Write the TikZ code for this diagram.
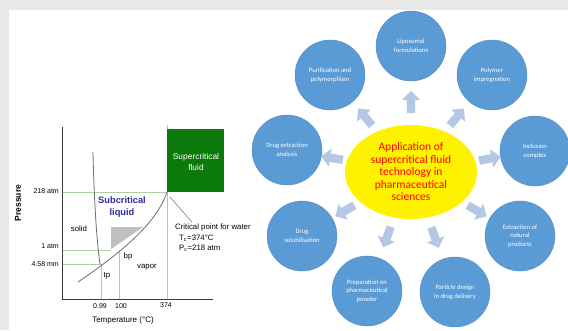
\documentclass[tikz,border=0pt]{standalone}
\usepackage{fontspec}
\setmainfont{Carlito}
\newfontfamily\arialfont{Liberation Sans}
\usetikzlibrary{calc,shapes.geometric,shapes.arrows}
\definecolor{framegray}{HTML}{E8E8E8}
\definecolor{scfgreen}{HTML}{0B7A0B}
\definecolor{gridgreen}{HTML}{A9CFA3}
\definecolor{axisgray}{HTML}{3C3C3C}
\definecolor{curvegray}{HTML}{6E6E6E}
\definecolor{circblue}{HTML}{5B9BD5}
\definecolor{arrblue}{HTML}{B4C8E6}
\definecolor{subblue}{HTML}{2B2B9E}
\tikzset{
  phase/.style={font=\arialfont\fontsize{7.8}{9.5}\selectfont, inner sep=1pt},
  ticklabel/.style={font=\arialfont\fontsize{7}{8}\selectfont, inner sep=1pt},
  gridline/.style={gridgreen, line width=0.7pt},
  usecircle/.style={circle, fill=circblue, draw=circblue!90!black, line width=0.4pt,
    minimum size=70pt, inner sep=0pt, text=white, align=center,
    font=\fontsize{6.6}{8.7}\selectfont},
  blockarrow/.style={single arrow, fill=arrblue, minimum height=22pt, minimum width=18pt,
    single arrow head extend=5pt, inner xsep=0pt, inner ysep=4pt}
}

\begin{document}
\begin{tikzpicture}[x=1pt,y=-1pt]
\useasboundingbox (0,0) rectangle (568,330);
\fill[framegray] (0,0) rectangle (568,330);
\fill[white] (9,10) rectangle (568,330);

% phase diagram of water
\draw[gridline] (62,192) -- (167,192);
\draw[gridline] (62,250) -- (111,250);
\draw[gridline] (62,264) -- (101,264) -- (101,299);
\draw[gridline] (119,250) -- (119,299);
\draw[gridline] (167,125) -- (167,299);
\fill[scfgreen] (167,129) rectangle (224,192);
\fill[gray!50] (111,227) -- (143,227) -- (111,249) -- cycle;
\draw[axisgray, line width=0.9pt] (62,127) -- (62,299) -- (213,299);
\draw[curvegray, line width=0.8pt] (93,152) .. controls (94,200) and (97,245) .. (100,264);
\draw[curvegray, line width=0.8pt] (78,282) .. controls (125,250) and (157,222) .. (167,192);

\path (196,162) node[phase, text=white, align=center, font=\arialfont\fontsize{8.4}{10.5}\selectfont] (scf) {Supercritical\\fluid};
\path (122,207) node[phase, text=subblue, align=center, font=\arialfont\bfseries\fontsize{9.3}{11.5}\selectfont] (sub) {Subcritical\\liquid};
\path (79,229) node[phase] (solid) {solid};
\path (128,256) node[phase] (bp) {bp};
\path (147,267) node[phase] (vapor) {vapor};
\path (107,276) node[phase] (tp) {tp};
\path (174,227) node[phase, anchor=west] (crit) {Critical point for water};
\path (178,238) node[phase, anchor=west] (tc) {T\textsubscript{c}=374°C};
\path (178,248) node[phase, anchor=west] (pc) {P\textsubscript{c}=218 atm};
\coordinate (cpt) at (170,197);
\draw[curvegray, line width=0.5pt] (cpt) -- ($(crit.north west)+(18,0)$);

\path (60,191) node[ticklabel, anchor=east] (p218) {218 atm};
\path (60,246) node[ticklabel, anchor=east] (p1) {1 atm};
\path (60,264) node[ticklabel, anchor=east] (p458) {4.58 mm};
\path (100,306) node[ticklabel] (t099) {0.99};
\path (121,306) node[ticklabel] (t100) {100};
\path (166,305) node[ticklabel] (t374) {374};
\path (123,320) node[phase, font=\arialfont\fontsize{8}{9}\selectfont] (tlab) {Temperature (°C)};
\path (18,203) node[phase, rotate=90, font=\arialfont\bfseries\fontsize{8.5}{10}\selectfont] (plab) {Pressure};

% applications
\path (411,172) node[ellipse, fill=yellow, minimum width=132pt, minimum height=94pt, inner sep=0pt,
  align=center, text=red, font=\fontsize{11.5}{12.5}\selectfont] (centre)
  {Application of\\supercritical fluid\\technology in\\pharmaceutical\\sciences};

\foreach \name/\x/\y/\ang/\r/\txt in {
  lipo/411/46/90/0.54/{Liposomal\\formulations},
  poly/492/75/50/0.55/{Polymer\\impregnation},
  incl/535/151/10/0.62/{Inclusion\\complex},
  natu/520/236/-30/0.59/{Extraction of\\natural\\products},
  part/455/292/-70/0.53/{Particle design\\in drug delivery},
  prep/367/291/-110/0.53/{Preparation on\\pharmaceutical\\powder},
  solu/302/236/-150/0.59/{Drug\\solubilisation},
  extr/287/150/170/0.62/{Drug extraction\\analysis},
  puri/330/75/130/0.55/{Purification and\\polymorphism}}
{
  \path (\x,\y) node[usecircle] (\name) {\txt};
  \path ($(centre)!\r!(\name)$) node[blockarrow, rotate=\ang] (arr-\name) {};
}
\end{tikzpicture}
\end{document}
